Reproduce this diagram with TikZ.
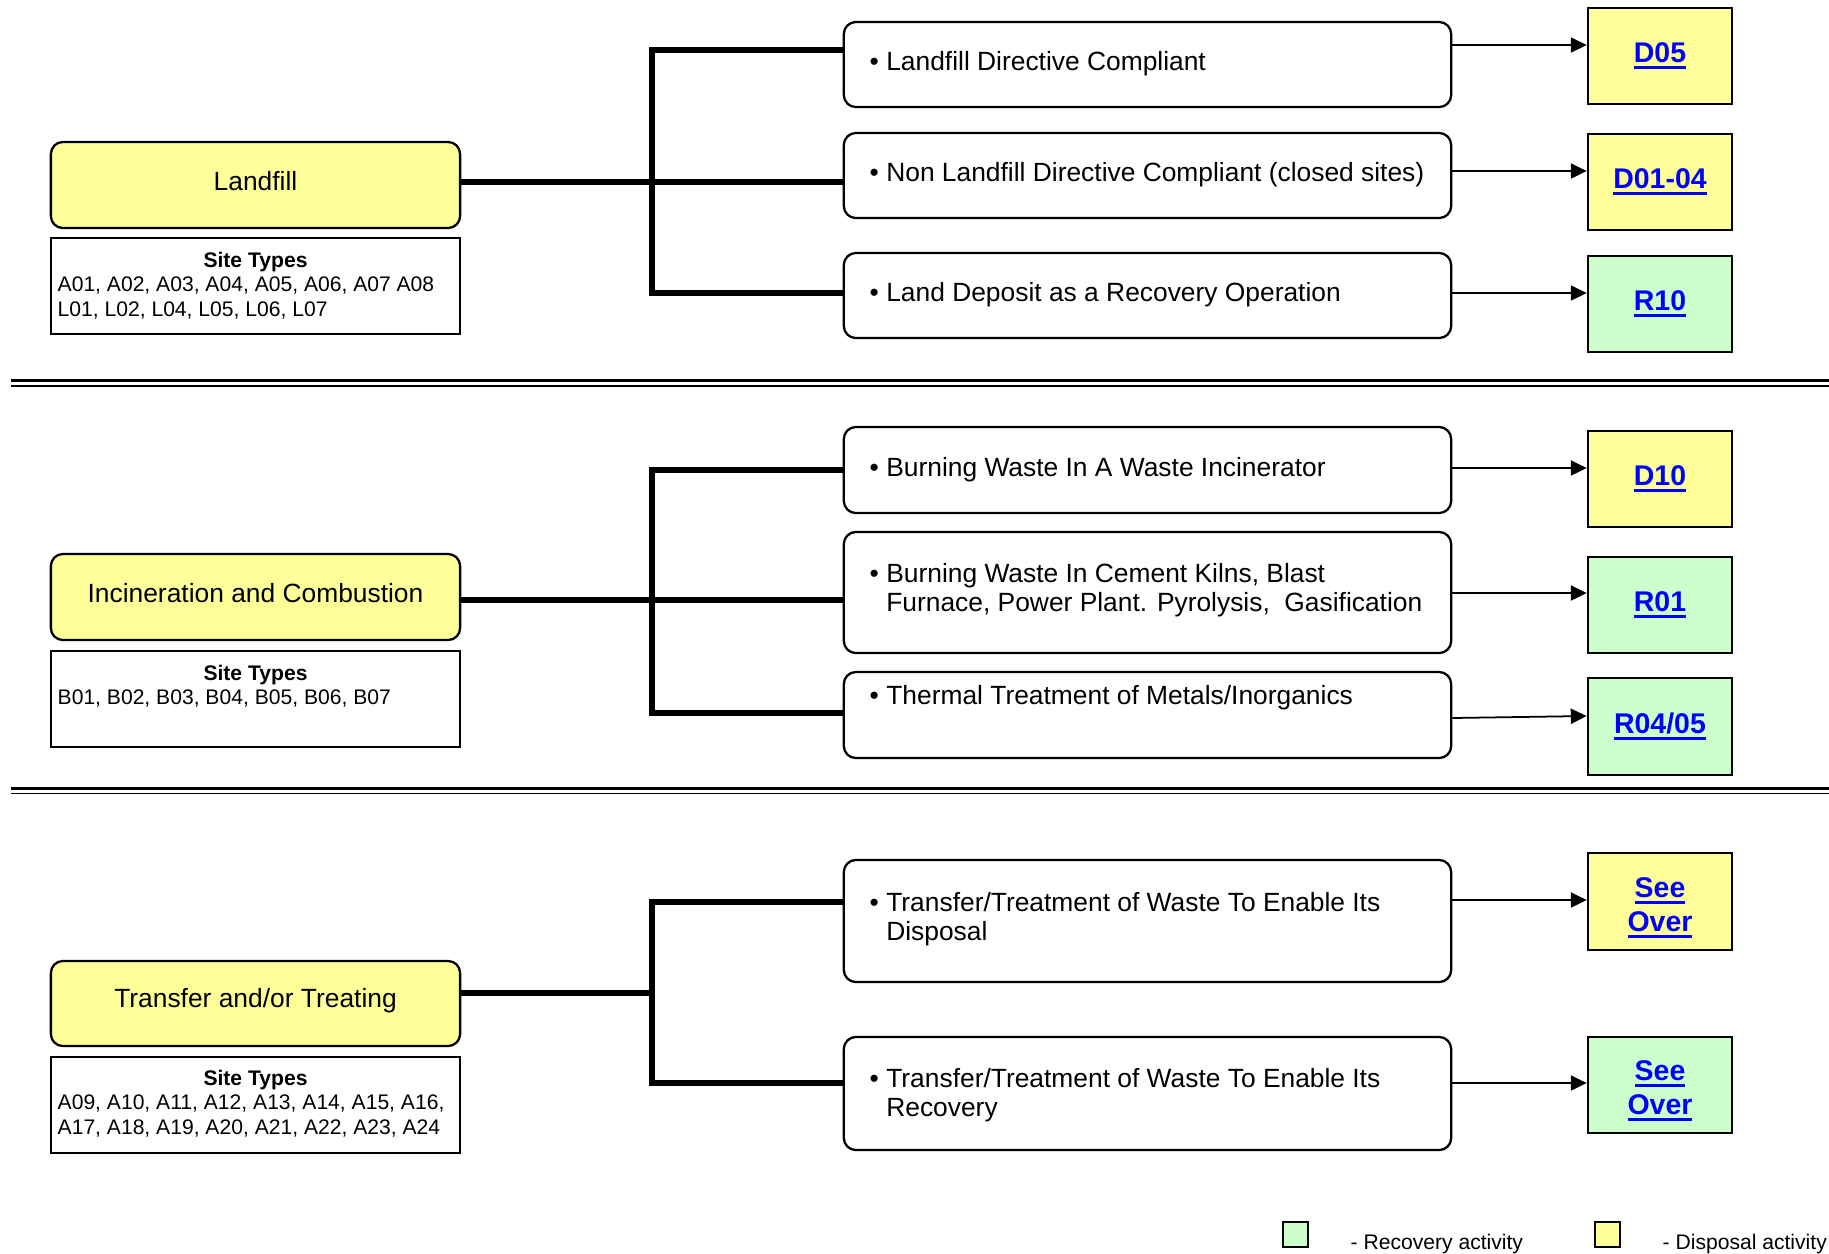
\documentclass[tikz,border=0pt]{standalone}
\usepackage{fontspec}
\setmainfont{Liberation Sans}
\usetikzlibrary{arrows.meta,calc}
\definecolor{dispY}{HTML}{FFFF99}
\definecolor{recG}{HTML}{CCFFCC}
\definecolor{lnkB}{HTML}{0000FF}
\newcommand\lnk[1]{\setbox0\hbox{#1}\rlap{\rule[-1.9pt]{\wd0}{0.85pt}}\box0}
\newcommand\bul[1]{\begin{tabular}[t]{@{}l@{\hspace{2.1pt}}l@{}}\textbullet&#1\end{tabular}}
\begin{document}
\begin{tikzpicture}[x=0.01cm,y=-0.01cm,
  catbox/.style={draw,line width=0.65pt,fill=dispY,rounded corners=0.12cm,minimum width=4.09cm,minimum height=0.86cm,inner sep=0pt},
  sitebox/.style={draw,line width=0.65pt,minimum width=4.09cm,minimum height=0.96cm,inner sep=0pt},
  opbox/.style={draw,line width=0.65pt,rounded corners=0.12cm,minimum width=6.07cm,inner sep=0pt},
  codebox/.style={draw,line width=0.75pt,minimum width=1.44cm,minimum height=0.96cm,inner sep=0pt,font=\fontsize{8.1}{9.4}\selectfont\bfseries,text=lnkB,align=center},
  codetext/.style={inner sep=0pt,font=\fontsize{8.1}{9.6}\selectfont\bfseries,text=lnkB,align=center},
  cattext/.style={anchor=base,inner sep=0pt,font=\fontsize{7.5}{9}\selectfont},
  optext/.style={anchor=base west,inner sep=0pt,font=\fontsize{7.5}{8.5}\selectfont},
  sitehead/.style={anchor=base,inner sep=0pt,font=\fontsize{6}{7}\selectfont\bfseries},
  sitetext/.style={anchor=base west,inner sep=0pt,font=\fontsize{6}{7}\selectfont,align=left},
  legtext/.style={anchor=base west,inner sep=0pt,font=\fontsize{6}{7}\selectfont},
  legbox/.style={draw,line width=0.65pt,minimum width=0.25cm,minimum height=0.25cm,inner sep=0pt},
  branch/.style={line width=1.7pt},
  arr/.style={line width=0.5pt,-{Triangle[length=4.5pt,width=4.3pt]}},
  septhick/.style={line width=0.85pt},
  septhin/.style={line width=0.55pt},
]
\useasboundingbox (0,0) rectangle (1829,1253);

% ---------- separators
\coordinate (s1a) at (11,380.5); \coordinate (s1b) at (1829,380.5);
\coordinate (s2a) at (11,385.8); \coordinate (s2b) at (1829,385.8);
\coordinate (s3a) at (11,788.5); \coordinate (s3b) at (1829,788.5);
\coordinate (s4a) at (11,793.5); \coordinate (s4b) at (1829,793.5);
\draw[septhick] (s1a) -- (s1b);
\draw[septhin] (s2a) -- (s2b);
\draw[septhick] (s3a) -- (s3b);
\draw[septhin] (s4a) -- (s4b);

% ---------- left category boxes
\node[catbox] (lf) at (255.5,185) {};
\node[cattext] (lft) at (255.5,190) {Landfill};
\node[sitebox] (st1) at (255.5,286) {};
\node[sitehead] (st1h) at (255.5,267) {Site Types};
\node[sitetext] (st1t) at (57,316) {A01, A02, A03, A04, A05, A06, A07 A08\\L01, L02, L04, L05, L06, L07};

\node[catbox] (inc) at (255.5,597) {};
\node[cattext] (inct) at (255.5,602) {Incineration and Combustion};
\node[sitebox] (st2) at (255.5,699) {};
\node[sitehead] (st2h) at (255.5,680) {Site Types};
\node[sitetext] (st2t) at (57,704) {B01, B02, B03, B04, B05, B06, B07};

\node[catbox,minimum height=0.85cm] (tr) at (255.5,1003.5) {};
\node[cattext] (trt) at (255.5,1007.5) {Transfer and/or Treating};
\node[sitebox] (st3) at (255.5,1105) {};
\node[sitehead] (st3h) at (255.5,1085) {Site Types};
\node[sitetext] (st3t) at (57,1134) {A09, A10, A11, A12, A13, A14, A15, A16,\\A17, A18, A19, A20, A21, A22, A23, A24};

% ---------- operation boxes
\node[opbox,minimum height=0.85cm] (op1) at (1147.5,64.5) {};
\node[opbox,minimum height=0.85cm] (op2) at (1147.5,175.5) {};
\node[opbox,minimum height=0.85cm] (op3) at (1147.5,295.5) {};
\node[opbox,minimum height=0.86cm] (op4) at (1147.5,470) {};
\node[opbox,minimum height=1.21cm] (op5) at (1147.5,592.5) {};
\node[opbox,minimum height=0.86cm] (op6) at (1147.5,715) {};
\node[opbox,minimum height=1.22cm] (op7) at (1147.5,921) {};
\node[opbox,minimum height=1.13cm] (op8) at (1147.5,1093.5) {};

\node[optext] (op1t) at (869,70) {\bul{Landfill Directive Compliant}};
\node[optext] (op2t) at (869,181) {\bul{Non Landfill Directive Compliant (closed sites)}};
\node[optext] (op3t) at (869,301) {\bul{Land Deposit as a Recovery Operation}};
\node[optext] (op4t) at (869,476) {\bul{Burning Waste In A Waste Incinerator}};
\node[optext] (op5t) at (869,582) {\bul{Burning Waste In Cement Kilns, Blast\\&Furnace, Power Plant. Pyrolysis, \ Gasification}};
\node[optext] (op6t) at (869,704) {\bul{Thermal Treatment of Metals/Inorganics}};
\node[optext] (op7t) at (869,911) {\bul{Transfer/Treatment of Waste To Enable Its\\&Disposal}};
\node[optext] (op8t) at (869,1087) {\bul{Transfer/Treatment of Waste To Enable Its\\&Recovery}};

% ---------- code boxes
\node[codebox,fill=dispY] (d05) at (1660,56) {\lnk{D05}};
\node[codebox,fill=dispY] (d0104) at (1660,182) {\lnk{D01-04}};
\node[codebox,fill=recG] (r10) at (1660,304) {\lnk{R10}};
\node[codebox,fill=dispY] (d10) at (1660,479) {\lnk{D10}};
\node[codebox,fill=recG] (r01) at (1660,605) {\lnk{R01}};
\node[codebox,fill=recG,minimum height=0.97cm] (r0405) at (1660,726.5) {\lnk{R04/05}};
\node[codebox,fill=dispY,minimum height=0.97cm] (so1) at (1660,901.5) {};
\node[codetext] (so1t) at (1660,908) {\lnk{See}\\\lnk{Over}};
\node[codebox,fill=recG] (so2) at (1660,1085) {};
\node[codetext] (so2t) at (1660,1091) {\lnk{See}\\\lnk{Over}};

% ---------- branch connectors
\coordinate (j1t) at (652,50);  \coordinate (j1m) at (652,182); \coordinate (j1b) at (652,293);
\coordinate (j2t) at (652,470); \coordinate (j2m) at (652,600); \coordinate (j2b) at (652,713);
\coordinate (j3t) at (652,902); \coordinate (j3m) at (652,993); \coordinate (j3b) at (652,1083);

\draw[branch] (lf.east |- j1m) -- (op2.west |- j1m);
\draw[branch] (op1.west |- j1t) -- (j1t) -- (j1b) -- (op3.west |- j1b);

\draw[branch] (inc.east |- j2m) -- (op5.west |- j2m);
\draw[branch] (op4.west |- j2t) -- (j2t) -- (j2b) -- (op6.west |- j2b);

\draw[branch] (tr.east |- j3m) -- (j3m);
\draw[branch] (op7.west |- j3t) -- (j3t) -- (j3b) -- (op8.west |- j3b);

% ---------- arrows
\coordinate (a1) at (1500,45);
\coordinate (a2) at (1500,171);
\coordinate (a3) at (1500,293);
\coordinate (a4) at (1500,468);
\coordinate (a5) at (1500,593);
\coordinate (a6s) at (1500,718);
\coordinate (a6e) at (1500,716);
\coordinate (a7) at (1500,900);
\coordinate (a8) at (1500,1083);
\draw[arr] (op1.east |- a1) -- (d05.west |- a1);
\draw[arr] (op2.east |- a2) -- (d0104.west |- a2);
\draw[arr] (op3.east |- a3) -- (r10.west |- a3);
\draw[arr] (op4.east |- a4) -- (d10.west |- a4);
\draw[arr] (op5.east |- a5) -- (r01.west |- a5);
\draw[arr] (op6.east |- a6s) -- (r0405.west |- a6e);
\draw[arr] (op7.east |- a7) -- (so1.west |- a7);
\draw[arr] (op8.east |- a8) -- (so2.west |- a8);

% ---------- legend
\node[legbox,fill=recG] (lg1) at (1295.5,1234.5) {};
\node[legtext] (lg1t) at (1350,1249) {- Recovery activity};
\node[legbox,fill=dispY] (lg2) at (1607.5,1234.5) {};
\node[legtext] (lg2t) at (1662,1249) {- Disposal activity};
\end{tikzpicture}
\end{document}
